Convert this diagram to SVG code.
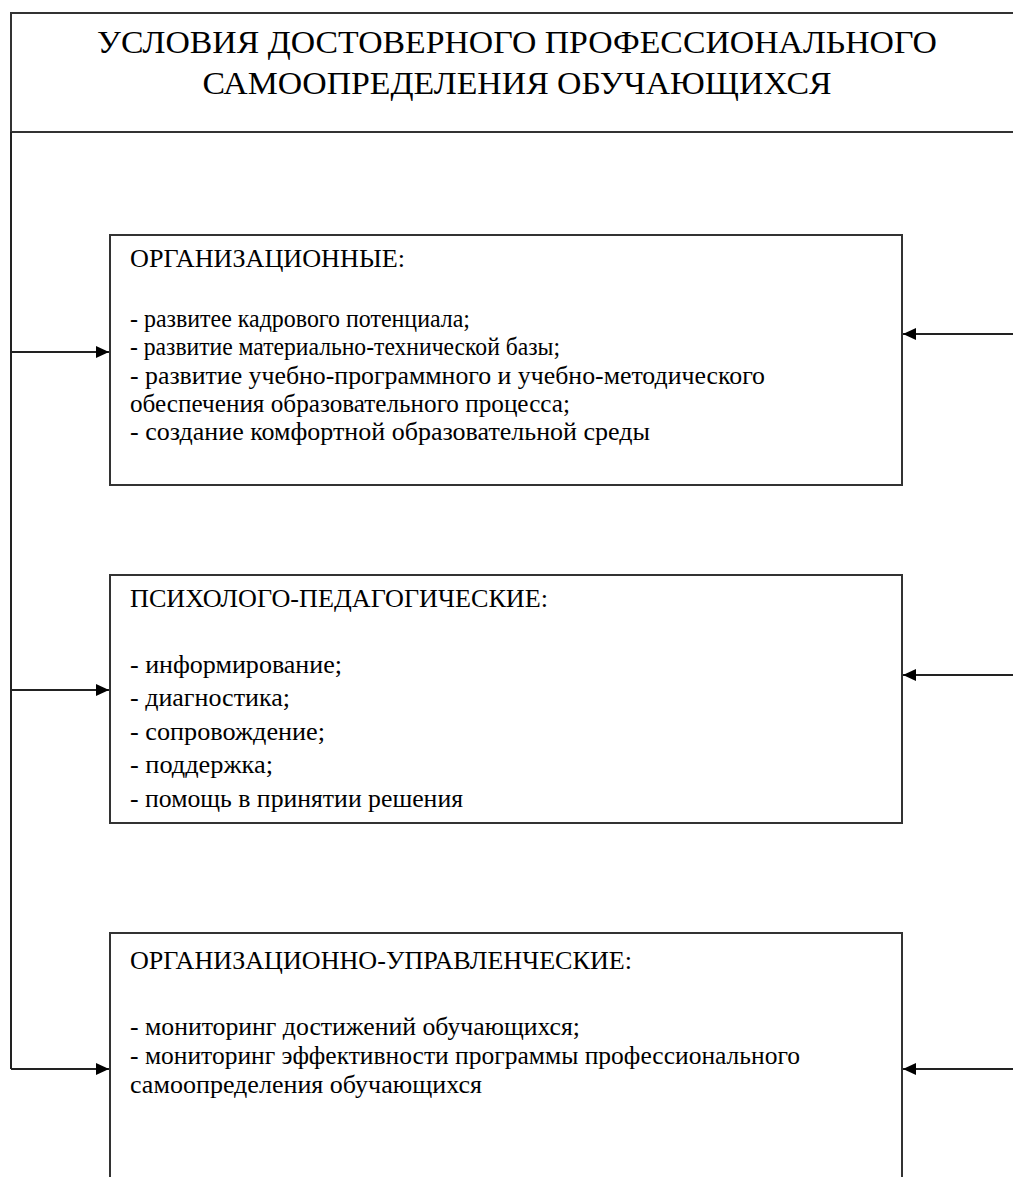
<svg xmlns="http://www.w3.org/2000/svg" width="1013" height="1177" viewBox="0 0 1013 1177">
<style>
.box{fill:#fff;stroke:#333;stroke-width:2}
.ln{fill:none;stroke:#222;stroke-width:2}
text{font-family:'Liberation Serif','DejaVu Serif',serif;fill:#000}
.t{font-size:25px}
.h{font-size:32px;text-anchor:middle}
</style>
<defs>
<marker id="ah" markerUnits="userSpaceOnUse" markerWidth="14" markerHeight="12" refX="13" refY="6" orient="auto">
<path d="M0,0 L13,6 L0,12 Z" fill="#000"/>
</marker>
</defs>
<rect width="1013" height="1177" fill="#fff"/>
<g id="title">
<rect class="box" x="11" y="13" width="1020" height="119"/>
<text class="h" x="517" y="53" textLength="840" lengthAdjust="spacingAndGlyphs">УСЛОВИЯ ДОСТОВЕРНОГО ПРОФЕССИОНАЛЬНОГО</text>
<text class="h" x="517" y="94" textLength="629" lengthAdjust="spacingAndGlyphs">САМООПРЕДЕЛЕНИЯ ОБУЧАЮЩИХСЯ</text>
</g>
<g id="org">
<rect class="box" x="110" y="235" width="792" height="250"/>
<text class="t" x="130" y="267" textLength="275" lengthAdjust="spacingAndGlyphs">ОРГАНИЗАЦИОННЫЕ:</text>
<text class="t" x="130" y="327" textLength="340" lengthAdjust="spacingAndGlyphs">- развитее кадрового потенциала;</text>
<text class="t" x="130" y="355" textLength="430" lengthAdjust="spacingAndGlyphs">- развитие материально-технической базы;</text>
<text class="t" x="130" y="384" textLength="635" lengthAdjust="spacingAndGlyphs">- развитие учебно-программного и учебно-методического</text>
<text class="t" x="130" y="412" textLength="440" lengthAdjust="spacingAndGlyphs">обеспечения образовательного процесса;</text>
<text class="t" x="130" y="440" textLength="520" lengthAdjust="spacingAndGlyphs">- создание комфортной образовательной среды</text>
</g>
<g id="psy">
<rect class="box" x="110" y="575" width="792" height="248"/>
<text class="t" x="130" y="607" textLength="418" lengthAdjust="spacingAndGlyphs">ПСИХОЛОГО-ПЕДАГОГИЧЕСКИЕ:</text>
<text class="t" x="130" y="673" textLength="212" lengthAdjust="spacingAndGlyphs">- информирование;</text>
<text class="t" x="130" y="706" textLength="160" lengthAdjust="spacingAndGlyphs">- диагностика;</text>
<text class="t" x="130" y="740" textLength="195" lengthAdjust="spacingAndGlyphs">- сопровождение;</text>
<text class="t" x="130" y="773" textLength="143" lengthAdjust="spacingAndGlyphs">- поддержка;</text>
<text class="t" x="130" y="807" textLength="333" lengthAdjust="spacingAndGlyphs">- помощь в принятии решения</text>
</g>
<g id="mgmt">
<rect class="box" x="110" y="933" width="792" height="270"/>
<text class="t" x="130" y="969" textLength="502" lengthAdjust="spacingAndGlyphs">ОРГАНИЗАЦИОННО-УПРАВЛЕНЧЕСКИЕ:</text>
<text class="t" x="130" y="1035" textLength="450" lengthAdjust="spacingAndGlyphs">- мониторинг достижений обучающихся;</text>
<text class="t" x="130" y="1064" textLength="670" lengthAdjust="spacingAndGlyphs">- мониторинг эффективности программы профессионального</text>
<text class="t" x="130" y="1093" textLength="352" lengthAdjust="spacingAndGlyphs">самоопределения обучающихся</text>
</g>
<g id="connectors">
<path class="ln" d="M11,132 V1069"/>
<path class="ln" d="M11,352 H109" marker-end="url(#ah)"/>
<path class="ln" d="M11,690 H109" marker-end="url(#ah)"/>
<path class="ln" d="M11,1069 H109" marker-end="url(#ah)"/>
<path class="ln" d="M1013,334 H903" marker-end="url(#ah)"/>
<path class="ln" d="M1013,675 H903" marker-end="url(#ah)"/>
<path class="ln" d="M1013,1069 H903" marker-end="url(#ah)"/>
</g>
</svg>
